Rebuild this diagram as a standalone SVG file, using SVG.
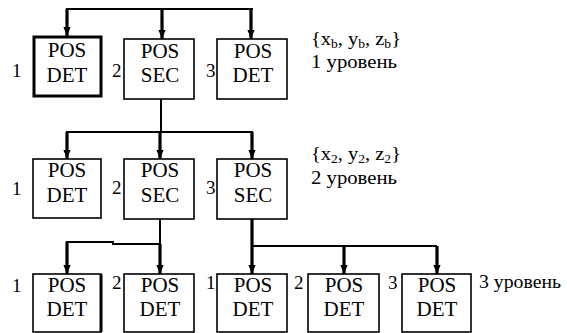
<svg xmlns="http://www.w3.org/2000/svg" width="567" height="333" viewBox="0 0 567 333">
<defs>
<style>
.box{fill:#fff;stroke:#000;stroke-width:1.6}
.thick{stroke-width:3}
.ln{fill:none;stroke:#000;stroke-width:2}
.ar{fill:none;stroke:#000;stroke-width:3.2;marker-end:url(#ah)}
</style>
<marker id="ah" viewBox="0 0 10 8" refX="10" refY="4" markerUnits="userSpaceOnUse" markerWidth="9" markerHeight="8" orient="auto">
<path d="M0,0 L10,4 L0,8 z" fill="#000"/>
</marker>
</defs>
<rect width="567" height="333" fill="#fff"/>

<g id="connectors">
<path class="ln" d="M66 9 H253"/>
<path class="ar" d="M67 9 V36"/>
<path class="ar" d="M162 9 V39"/>
<path class="ar" d="M251 9 V39"/>
<path class="ln" d="M161 99 V132"/>
<path class="ln" d="M66 132 H253"/>
<path class="ar" d="M67 132 V159"/>
<path class="ar" d="M160 132 V159"/>
<path class="ar" d="M252 132 V159"/>
<path class="ln" d="M160 219 V244"/>
<path class="ln" d="M66 242 H113 V244 H160"/>
<path class="ar" d="M67 242 V274"/>
<path class="ar" d="M160 244 V274"/>
<path class="ar" d="M252 219 V274"/>
<path class="ln" d="M252 246 H437"/>
<path class="ar" d="M344 246 V274"/>
<path class="ar" d="M437 246 V274"/>
</g>

<g fill="#000" font-family="'Liberation Serif', 'Times New Roman', 'DejaVu Serif', serif">
<g font-size="21" text-anchor="middle">
<g id="l1n1"><rect class="box thick" x="34" y="37" width="67" height="59"/><text x="67" y="57">POS</text><text x="67" y="82">DET</text></g>
<g id="l1n2"><rect class="box" x="124" y="39" width="70" height="60"/><text x="160" y="58">POS</text><text x="160" y="82">SEC</text></g>
<g id="l1n3"><rect class="box" x="217" y="39" width="70" height="60"/><text x="253" y="58">POS</text><text x="253" y="82">DET</text></g>
<g id="l2n1"><rect class="box" x="33" y="159" width="68" height="59"/><text x="67" y="177">POS</text><text x="67" y="202">DET</text></g>
<g id="l2n2"><rect class="box" x="124" y="159" width="70" height="60"/><text x="160" y="177">POS</text><text x="160" y="202">SEC</text></g>
<g id="l2n3"><rect class="box" x="217" y="159" width="70" height="60"/><text x="253" y="177">POS</text><text x="253" y="202">SEC</text></g>
<g id="l3n1"><rect class="box" x="33" y="274" width="68" height="58"/><path d="M101 274 V332" stroke="#000" stroke-width="3"/><text x="67" y="292">POS</text><text x="67" y="316">DET</text></g>
<g id="l3n2"><rect class="box" x="124" y="274" width="70" height="58"/><text x="160" y="292">POS</text><text x="160" y="316">DET</text></g>
<g id="l3n3"><rect class="box" x="217" y="274" width="70" height="58"/><text x="253" y="292">POS</text><text x="253" y="316">DET</text></g>
<g id="l3n4"><rect class="box" x="308" y="274" width="71" height="58"/><text x="344" y="292">POS</text><text x="344" y="316">DET</text></g>
<g id="l3n5"><rect class="box" x="402" y="274" width="69" height="58"/><text x="437" y="292">POS</text><text x="437" y="316">DET</text></g>
</g>
<g id="numbers" font-size="19">
<text x="12" y="77">1</text><text x="112" y="77">2</text><text x="206" y="77">3</text>
<text x="12" y="195">1</text><text x="112" y="194">2</text><text x="206" y="194">3</text>
<text x="12" y="292">1</text><text x="112" y="289">2</text><text x="206" y="289">1</text><text x="294" y="289">2</text><text x="388" y="289">3</text>
</g>
<g id="levels" font-size="18">
<text x="311" y="45" textLength="90" lengthAdjust="spacingAndGlyphs">{x<tspan font-size="12" dy="3">b</tspan><tspan dy="-3">, y</tspan><tspan font-size="12" dy="3">b</tspan><tspan dy="-3">, z</tspan><tspan font-size="12" dy="3">b</tspan><tspan dy="-3">}</tspan></text>
<text x="311" y="68" textLength="86" lengthAdjust="spacingAndGlyphs">1 уровень</text>
<text x="311" y="160" textLength="90" lengthAdjust="spacingAndGlyphs">{x<tspan font-size="12" dy="3">2</tspan><tspan dy="-3">, y</tspan><tspan font-size="12" dy="3">2</tspan><tspan dy="-3">, z</tspan><tspan font-size="12" dy="3">2</tspan><tspan dy="-3">}</tspan></text>
<text x="311" y="184" textLength="86" lengthAdjust="spacingAndGlyphs">2 уровень</text>
<text x="479" y="288" textLength="82" lengthAdjust="spacingAndGlyphs">3 уровень</text>
</g>
</g>
</svg>
